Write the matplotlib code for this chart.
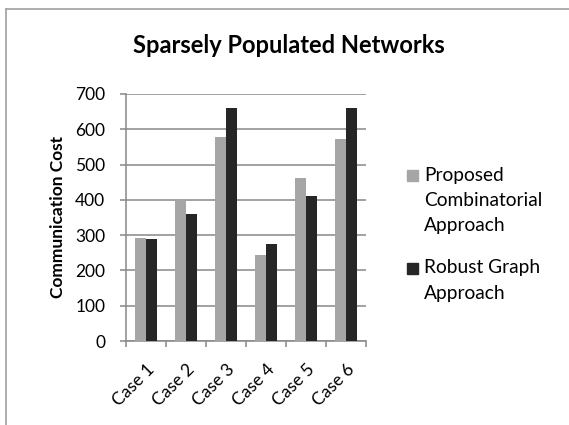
import matplotlib
matplotlib.use("Agg")
import matplotlib.pyplot as plt
import matplotlib.transforms as mtransforms
from matplotlib.lines import Line2D
from matplotlib.patches import Rectangle
import numpy as np

# Chart data
categories = ["Case 1", "Case 2", "Case 3", "Case 4", "Case 5", "Case 6"]
proposed = [292, 403, 578, 243, 463, 572]
robust = [288, 361, 659, 274, 410, 659]
series_labels = ["Proposed\nCombinatorial\nApproach", "Robust Graph\nApproach"]
series_colors = ["#A6A6A6", "#262626"]
y_ticks = [0, 100, 200, 300, 400, 500, 600, 700]
title = "Sparsely Populated Networks"
y_label = "Communication Cost"

W, H = 569, 425
plt.rcParams["font.family"] = ["Lato", "DejaVu Sans"]

fig = plt.figure(figsize=(W / 100, H / 100), dpi=100)
fig.patch.set_facecolor("white")
renderer = fig.canvas.get_renderer()


def fx(px):
    return px / W


def fy(py):
    return 1 - py / H


def size_for_width(text, width_px, **kw):
    """Font size (pt) that makes `text` span `width_px` pixels."""
    t = fig.text(0, 0, text, fontsize=10, **kw)
    w = t.get_window_extent(renderer).width
    t.remove()
    return 10 * width_px / w


tick_fs = size_for_width("700", 30)
legend_fs = size_for_width("Combinatorial", 119)
title_fs = size_for_width(title, 312, fontweight="bold")

# Chart-area frame (left and top edges visible)
fig.add_artist(Line2D([fx(5.5), fx(5.5)], [fy(9), 0], transform=fig.transFigure,
                      color="#A0A0A0", lw=1.2))
fig.add_artist(Line2D([fx(5.5), 1], [fy(9), fy(9)], transform=fig.transFigure,
                      color="#A0A0A0", lw=1.2))

ax = fig.add_axes([fx(126), fy(341), fx(366) - fx(126), (341 - 94) / H])

x = np.arange(len(categories))
bw = 0.275
ax.bar(x - bw / 2, proposed, bw, color=series_colors[0], zorder=3)
ax.bar(x + bw / 2, robust, bw, color=series_colors[1], zorder=3)

ax.set_xlim(-0.5, len(categories) - 0.5)
ax.set_ylim(0, 700)
ax.set_yticks(y_ticks)
ax.set_yticklabels([str(v) for v in y_ticks], fontsize=tick_fs)
ax.yaxis.grid(True, color="#878787", lw=1.1, zorder=0)
ax.set_axisbelow(True)

ax.set_xticks(x)
ax.set_xticklabels(categories, rotation=45, ha="right", va="top",
                   rotation_mode="anchor", fontsize=tick_fs)
shift = mtransforms.ScaledTranslation(4 / 100, 0, fig.dpi_scale_trans)
for lbl in ax.get_xticklabels():
    lbl.set_transform(lbl.get_transform() + shift)
ax.set_xticks(np.arange(len(categories) + 1) - 0.5, minor=True)
ax.tick_params(axis="x", which="major", length=0, pad=14.5)
ax.tick_params(axis="x", which="minor", length=4.5, color="#878787", width=1.1)
ax.tick_params(axis="y", length=4.5, color="#878787", width=1.1, pad=10.5)

for s in ["top", "right"]:
    ax.spines[s].set_visible(False)
for s in ["left", "bottom"]:
    ax.spines[s].set_color("#878787")
    ax.spines[s].set_linewidth(1.1)

# Title and axis label
fig.text(fx(289), fy(53), title, ha="center", va="baseline",
         fontsize=title_fs, fontweight="bold")
fig.text(fx(66), fy(217), y_label, rotation=90, ha="right", va="center",
         fontsize=tick_fs, fontweight="bold")

# Legend
legend_rows = [175, 268]
for label, color, row in zip(series_labels, series_colors, legend_rows):
    fig.add_artist(Rectangle((fx(407), fy(row + 6)), fx(11), 11 / H,
                             transform=fig.transFigure, color=color))
    for i, line in enumerate(label.split("\n")):
        fig.text(fx(424), fy(row + 25 * i), line, ha="left", va="center",
                 fontsize=legend_fs)

fig.savefig("out.png", dpi=100)
